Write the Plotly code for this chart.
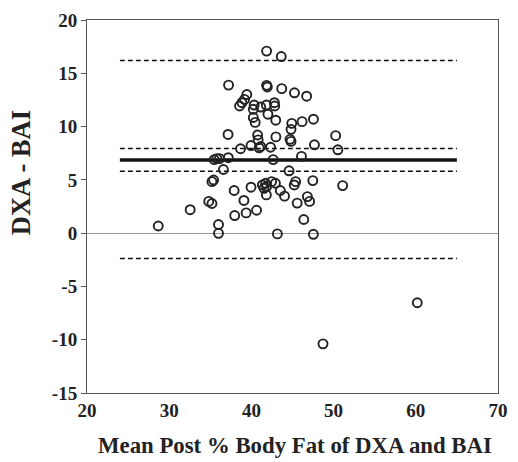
import plotly.graph_objects as go

mean_pct = [41.85, 43.63, 37.22, 41.85, 41.94, 43.69, 45.24, 46.72, 39.44, 39.16,
            38.85, 38.56, 40.34, 40.23, 41.14, 41.82, 42.80, 42.84, 42.01, 40.23,
            40.46, 42.96, 44.91, 44.82, 46.16, 47.55, 37.16, 40.75, 40.82, 42.98,
            44.70, 44.82, 50.25, 38.68, 39.95, 40.94, 41.14, 42.33, 47.67, 50.52,
            35.48, 35.80, 36.12, 37.19, 42.65, 46.09, 36.59, 44.58, 35.20, 35.40,
            37.90, 39.95, 41.34, 41.73, 41.85, 42.45, 42.92, 41.53, 41.82, 43.52,
            44.03, 45.38, 45.21, 47.47, 51.10, 45.57, 46.81, 47.08, 39.09, 34.81,
            35.20, 37.97, 39.36, 40.63, 46.37, 36.00, 36.00, 43.16, 47.54, 28.67,
            32.55, 60.18, 48.71]
diff = [17.08, 16.57, 13.89, 13.87, 13.72, 13.56, 13.17, 12.85, 13.01, 12.55,
        12.24, 11.93, 12.02, 11.62, 11.83, 12.02, 12.24, 11.93, 11.16, 10.85,
        10.39, 10.60, 10.30, 9.74, 10.46, 10.69, 9.26, 9.21, 8.75, 9.03,
        8.80, 8.61, 9.15, 7.92, 8.22, 8.01, 8.13, 8.06, 8.29, 7.82,
        6.90, 6.99, 6.99, 7.08, 6.90, 7.20, 5.97, 5.85, 4.83, 4.98,
        4.00, 4.31, 4.52, 4.68, 4.37, 4.83, 4.68, 4.21, 3.59, 4.00,
        3.47, 4.83, 4.52, 4.93, 4.46, 2.82, 3.43, 2.98, 3.07, 2.98,
        2.78, 1.65, 1.90, 2.15, 1.28, 0.81, -0.02, -0.07, -0.11, 0.67,
        2.20, -6.53, -10.39]

line_x = [24, 65]
mean_diff = 6.87
ci_upper = 7.95
ci_lower = 5.81
loa_upper = 16.2
loa_lower = -2.39

x_ticks = [20, 30, 40, 50, 60, 70]
x_labels = ["20", "30", "40", "50", "60", "70"]
y_ticks = [-15, -10, -5, 0, 5, 10, 15, 20]
y_labels = ["-15", "-10", "-5", "0", "5", "10", "15", "20"]
x_title = "Mean Post % Body Fat of DXA and BAI"
y_title = "DXA - BAI"

fig = go.Figure()
for val in [loa_upper, ci_upper, ci_lower, loa_lower]:
    fig.add_trace(go.Scatter(x=line_x, y=[val, val], mode="lines",
                             line=dict(color="#111", width=1.5, dash="5px,3px"),
                             showlegend=False, hoverinfo="skip"))
fig.add_trace(go.Scatter(x=line_x, y=[mean_diff, mean_diff], mode="lines",
                         line=dict(color="#111", width=3.5),
                         showlegend=False, hoverinfo="skip"))
fig.add_trace(go.Scatter(x=mean_pct, y=diff, mode="markers",
                         marker=dict(symbol="circle-open", size=9, color="#222",
                                     line=dict(width=1.9, color="#222")),
                         showlegend=False))

font_fam = "Liberation Serif, Times New Roman, serif"
fig.update_layout(
    width=518, height=462,
    margin=dict(l=87, r=10, t=15, b=69),
    paper_bgcolor="white", plot_bgcolor="white",
    font=dict(family=font_fam, color="#222"),
)
fig.update_xaxes(range=[20, 70], tickvals=x_ticks,
                 ticktext=["<b>%s</b>" % t for t in x_labels],
                 ticks="", showgrid=False,
                 zeroline=False, showline=True, linecolor="#555", linewidth=1,
                 mirror=True,
                 tickfont=dict(size=19, family=font_fam, color="#222", weight="bold"))
fig.update_yaxes(range=[-15, 20], tickvals=y_ticks,
                 ticktext=["<b>%s</b>" % t for t in y_labels],
                 ticks="outside", ticklen=5,
                 tickcolor="#555", showgrid=False,
                 zeroline=True, zerolinecolor="#999", zerolinewidth=1,
                 showline=True, linecolor="#555", linewidth=1, mirror=True,
                 tickfont=dict(size=19, family=font_fam, color="#222", weight="bold"))
fig.add_annotation(text="<b>%s</b>" % x_title, xref="paper", yref="paper",
                   x=0.506, y=-0.14,
                   xanchor="center", yanchor="middle", showarrow=False,
                   font=dict(size=22.8, family=font_fam, color="#222", weight="bold"))
fig.add_annotation(text="<b>%s</b>" % y_title, xref="paper", yref="paper",
                   x=-0.16, y=0.59,
                   xanchor="center", yanchor="middle", showarrow=False, textangle=-90,
                   font=dict(size=26.5, family=font_fam, color="#222", weight="bold"))

fig.write_html("out.html")
